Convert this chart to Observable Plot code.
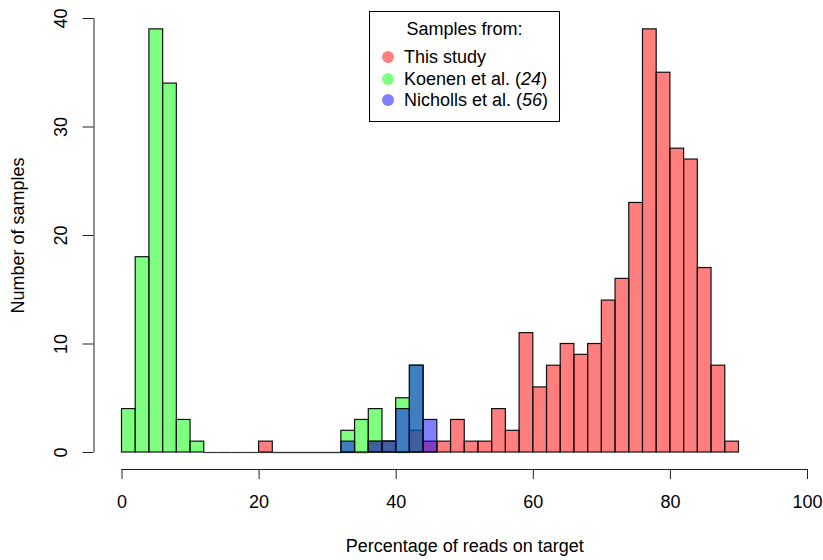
<!DOCTYPE html>
<html>
<head>
<meta charset="utf-8">
<script src="https://cdn.jsdelivr.net/npm/d3@7"></script>
<script src="https://cdn.jsdelivr.net/npm/@observablehq/plot@0.6"></script>
<style>
  body { margin: 0; background: #fff; font-family: "Liberation Sans", Arial, sans-serif; }
  #wrap { position: relative; width: 823px; height: 560px; }
  .legend { position: absolute; left: 369px; top: 11px; width: 191px; height: 111px;
            box-sizing: border-box; border: 1px solid #000; background: #fff;
            font-size: 18px; color: #000; }
  .legend .row { position: absolute; left: 0; height: 22px; line-height: 22px; white-space: nowrap; }
  .legend .title { width: 100%; text-align: center; }
  .legend .dot { position: absolute; left: 12px; top: 5px; width: 12px; height: 12px; border-radius: 50%; }
  .legend .lab { position: absolute; left: 34px; top: 0; }
</style>
</head>
<body>
<div id="wrap"></div>
<script>
// Histogram counts, bins of width 2 (% of reads on target)
const binWidth = 2;

const studyStart = 20;
const studyCounts = [1, 0, 0, 0, 0, 0, 0, 0, 1, 1, 0, 2, 1, 1, 3, 1, 1, 4, 2, 11,
                     6, 8, 10, 9, 10, 14, 16, 23, 39, 35, 28, 27, 17, 8, 1];

const koenenStart = 0;
const koenenCounts = [4, 18, 39, 34, 3, 1, 0, 0, 0, 0, 0, 0, 0, 0, 0, 0, 2, 3, 4, 1, 5, 8];

const nichollsStart = 32;
const nichollsCounts = [1, 0, 1, 1, 4, 8, 3];

const seriesLabels = ["This study", "Koenen et al. (<i>24</i>)", "Nicholls et al. (<i>56</i>)"];
const seriesColors = ["#ff0000", "#00ff00", "#0000ff"];

const xTicks = [0, 20, 40, 60, 80, 100];
const yTicks = [0, 10, 20, 30, 40];

function toBins(start, counts) {
  return counts.map((c, i) => ({x1: start + i * binWidth, x2: start + (i + 1) * binWidth, count: c}));
}

const series = [
  toBins(studyStart, studyCounts),
  toBins(koenenStart, koenenCounts),
  toBins(nichollsStart, nichollsCounts)
];

const marks = [];
series.forEach((bins, k) => {
  // empty bins collapse to a line on the baseline
  marks.push(Plot.ruleY(bins.filter(d => d.count === 0), {
    x1: "x1", x2: "x2", y: 0, stroke: "#333", strokeWidth: 1.2
  }));
  marks.push(Plot.rect(bins.filter(d => d.count > 0), {
    x1: "x1", x2: "x2", y1: 0, y2: "count",
    fill: seriesColors[k], fillOpacity: 0.5, stroke: "#111", strokeWidth: 1.2
  }));
});

const chart = Plot.plot({
  width: 823,
  height: 560,
  marginLeft: 121.5,
  marginRight: 16,
  marginTop: 18,
  marginBottom: 108,
  style: {fontFamily: "'Liberation Sans', Arial, sans-serif", fontSize: "18px", color: "#000", background: "#fff"},
  x: {domain: [0, 100]},
  y: {domain: [0, 40]},
  marks: [
    ...marks,
    // x axis, set below the plotting region
    Plot.ruleY([yTicks[0]], {x1: xTicks[0], x2: xTicks[xTicks.length - 1], dy: 17, stroke: "#222"}),
    Plot.axisX(xTicks, {anchor: "bottom", tickSize: 10, tickPadding: 16, dy: 17, label: null, stroke: "#222"}),
    Plot.text(["Percentage of reads on target"], {frameAnchor: "bottom", lineAnchor: "middle", textAnchor: "middle", dy: 94}),
    // y axis, set left of the plotting region
    Plot.ruleX([xTicks[0]], {y1: yTicks[0], y2: yTicks[yTicks.length - 1], dx: -28, stroke: "#222"}),
    Plot.axisY(yTicks, {anchor: "left", tickSize: 11, dx: -28, tickFormat: () => "", label: null, stroke: "#222"}),
    Plot.text(yTicks, {y: d => d, text: d => String(d), frameAnchor: "left", textAnchor: "middle", lineAnchor: "middle", dx: -61, rotate: -90}),
    Plot.text(["Number of samples"], {frameAnchor: "left", textAnchor: "middle", lineAnchor: "middle", dx: -103.5, rotate: -90})
  ]
});

const wrap = document.getElementById("wrap");
wrap.appendChild(chart);

// legend box
const legend = document.createElement("div");
legend.className = "legend";
let html = `<div class="row title" style="top:6px">Samples from:</div>`;
seriesLabels.forEach((lab, i) => {
  const top = 34 + i * 21.7;
  html += `<div class="row" style="top:${top}px;width:100%">` +
          `<span class="dot" style="background:${seriesColors[i]};opacity:0.5"></span>` +
          `<span class="lab">${lab}</span></div>`;
});
legend.innerHTML = html;
wrap.appendChild(legend);
</script>
</body>
</html>
